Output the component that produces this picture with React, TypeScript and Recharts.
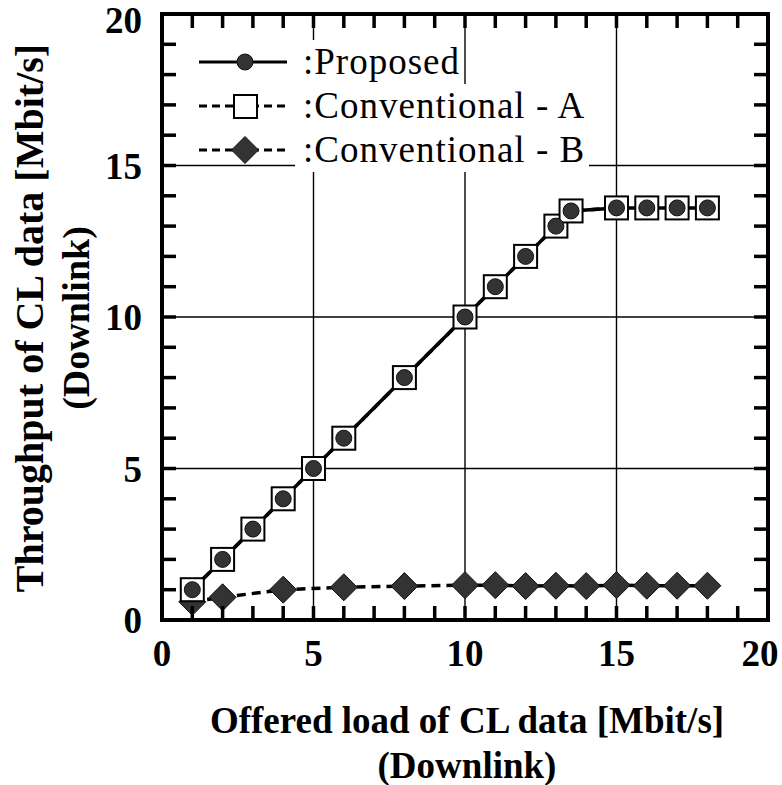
import React from 'react';
import { LineChart, Line, XAxis, YAxis, ReferenceLine, ReferenceArea, Legend } from 'recharts';

// offered load [Mbit/s] for the proposed scheme and conventional A
const offeredLoad = [1, 2, 3, 4, 5, 6, 8, 10, 11, 12, 13, 13.5, 15, 16, 17, 18];
const proposedThroughput = [1, 2, 3, 4, 5, 6, 8, 10, 11, 12, 13, 13.5, 13.6, 13.6, 13.6, 13.6];
const conventionalAThroughput = [1, 2, 3, 4, 5, 6, 8, 10, 11, 12, 13, 13.5, 13.6, 13.6, 13.6, 13.6];

// conventional B is sampled at slightly different loads
const offeredLoadB = [1, 2, 4, 6, 8, 10, 11, 12, 13, 14, 15, 16, 17, 18];
const conventionalBThroughput = [0.6, 0.75, 1.0, 1.08, 1.12, 1.15, 1.15, 1.12, 1.13, 1.12, 1.15, 1.13, 1.13, 1.13];

const allTicks = [0, 1, 2, 3, 4, 5, 6, 7, 8, 9, 10, 11, 12, 13, 14, 15, 16, 17, 18, 19, 20];
const gridValues = [5, 10, 15];
const labelledTicks = [0, 5, 10, 15, 20];

const seriesNames = [':Proposed', ':Conventional - A', ':Conventional - B'];

const toPoints = (xs: number[], ys: number[]) => xs.map((x, i) => ({ x, y: ys[i] }));
const proposedData = toPoints(offeredLoad, proposedThroughput);
const convAData = toPoints(offeredLoad, conventionalAThroughput);
const convBData = toPoints(offeredLoadB, conventionalBThroughput);

const FONT = '"Liberation Serif", "Times New Roman", Times, serif';
const AX_MIN = 0;
const AX_MAX = 20;
const TICK_PX = 14;
const DASH = '9 6';
const frameStyle = { stroke: '#000', strokeWidth: 2 };

// positions of the small tick marks along each side of the frame
const innerTicks = allTicks.filter((t) => t > AX_MIN && t < AX_MAX);
const bottomTickPts = innerTicks.map((t) => ({ x: t, y: AX_MIN }));
const topTickPts = innerTicks.map((t) => ({ x: t, y: AX_MAX }));
const leftTickPts = innerTicks.map((t) => ({ x: AX_MIN, y: t }));
const rightTickPts = innerTicks.map((t) => ({ x: AX_MAX, y: t }));

const BottomTick = (props: any) => {
  const { x, y, payload } = props;
  const v = payload.value;
  if (!labelledTicks.includes(v)) return <g />;
  return (
    <text
      x={v === 20 ? x - 8 : x}
      y={y + 46}
      textAnchor="middle"
      fontFamily={FONT}
      fontWeight="bold"
      fontSize={37}
      fill="#000"
    >
      {v}
    </text>
  );
};

const LeftTick = (props: any) => {
  const { x, y, payload } = props;
  const v = payload.value;
  if (!labelledTicks.includes(v)) return <g />;
  return (
    <text
      x={x - 20}
      y={v === 20 ? y + 19 : y + 13}
      textAnchor="end"
      fontFamily={FONT}
      fontWeight="bold"
      fontSize={37}
      fill="#000"
    >
      {v}
    </text>
  );
};

// tick marks drawn as filled bars at each tick point
const makeTickMark = (dx: number, dy: number) => (props: any) => {
  const { cx, cy, index } = props;
  if (cx == null || cy == null) return <g key={`t-${index}`} />;
  const w = 3.5;
  const x = dx === 0 ? cx - w / 2 : Math.min(cx, cx + dx);
  const y = dy === 0 ? cy - w / 2 : Math.min(cy, cy + dy);
  const width = dx === 0 ? w : Math.abs(dx);
  const height = dy === 0 ? w : Math.abs(dy);
  return <rect key={`t-${index}`} x={x} y={y} width={width} height={height} fill="#000" />;
};
const upTick = makeTickMark(0, -TICK_PX);
const downTick = makeTickMark(0, TICK_PX);
const rightwardTick = makeTickMark(TICK_PX, 0);
const leftwardTick = makeTickMark(-TICK_PX, 0);

const CircleDot = (props: any) => {
  const { cx, cy, index } = props;
  if (cx == null || cy == null) return <g key={`c-${index}`} />;
  return <circle key={`c-${index}`} cx={cx} cy={cy} r={8} fill="#333" stroke="#111" strokeWidth={1} />;
};

const SquareDot = (props: any) => {
  const { cx, cy, index } = props;
  if (cx == null || cy == null) return <g key={`s-${index}`} />;
  return (
    <rect key={`s-${index}`} x={cx - 11.5} y={cy - 11.5} width={23} height={23} fill="#fff" stroke="#000" strokeWidth={2} />
  );
};

const DiamondDot = (props: any) => {
  const { cx, cy, index } = props;
  if (cx == null || cy == null) return <g key={`d-${index}`} />;
  const h = 13.5;
  return (
    <path
      key={`d-${index}`}
      d={`M${cx},${cy - h} L${cx + h},${cy} L${cx},${cy + h} L${cx - h},${cy} Z`}
      fill="#333"
      stroke="#111"
      strokeWidth={1}
    />
  );
};

const LegendSample = ({ kind }: { kind: number }) => (
  <svg width={100} height={44} style={{ display: 'block' }}>
    <line
      x1={4}
      x2={92}
      y1={22}
      y2={22}
      stroke="#000"
      strokeWidth={3}
      strokeDasharray={kind === 0 ? undefined : '8 5'}
    />
    {kind === 0 && <circle cx={50} cy={22} r={8} fill="#333" stroke="#111" strokeWidth={1} />}
    {kind === 1 && <rect x={39} y={11} width={23} height={23} fill="#fff" stroke="#000" strokeWidth={2} />}
    {kind === 2 && (
      <path d="M50,8.5 L63.5,22 L50,35.5 L36.5,22 Z" fill="#333" stroke="#111" strokeWidth={1} />
    )}
  </svg>
);

const renderLegend = () => (
  <div style={{ fontFamily: FONT, fontSize: 37, color: '#000', letterSpacing: 1 }}>
    {seriesNames.map((name, i) => (
      <div key={name} style={{ display: 'flex', alignItems: 'center', height: 44 }}>
        <LegendSample kind={i} />
        <span
          style={{
            fontFamily: FONT,
            background: '#fff',
            lineHeight: '44px',
            height: 44,
            paddingLeft: 8,
            paddingRight: 4,
          }}
        >
          {name}
        </span>
      </div>
    ))}
  </div>
);

const tickSeries = [
  { key: 'tb', data: bottomTickPts, dot: upTick },
  { key: 'tt', data: topTickPts, dot: downTick },
  { key: 'tl', data: leftTickPts, dot: rightwardTick },
  { key: 'tr', data: rightTickPts, dot: leftwardTick },
];

const App = () => {
  return (
    <div style={{ position: 'absolute', left: 0, top: 0, width: 782, height: 785, background: '#fff' }}>
      <LineChart width={782} height={785} margin={{ top: 14, right: 14, bottom: 0, left: 0 }}>
        <XAxis
          type="number"
          dataKey="x"
          domain={[AX_MIN, AX_MAX]}
          ticks={allTicks}
          interval={0}
          height={165}
          tickSize={0}
          tickMargin={0}
          tickLine={false}
          axisLine={frameStyle}
          tick={<BottomTick />}
        />
        <YAxis
          type="number"
          domain={[AX_MIN, AX_MAX]}
          ticks={allTicks}
          interval={0}
          width={162}
          tickSize={0}
          tickMargin={0}
          tickLine={false}
          axisLine={frameStyle}
          tick={<LeftTick />}
        />
        {gridValues.map((v) => (
          <ReferenceLine key={`gx-${v}`} x={v} stroke="#000" strokeWidth={1.4} />
        ))}
        {gridValues.map((v) => (
          <ReferenceLine key={`gy-${v}`} y={v} stroke="#000" strokeWidth={1.4} />
        ))}
        <ReferenceArea
          x1={AX_MIN}
          x2={AX_MAX}
          y1={AX_MIN}
          y2={AX_MAX}
          fill="none"
          fillOpacity={0}
          stroke="#000"
          strokeWidth={4}
        />
        <Line
          data={convBData}
          dataKey="y"
          name="Conventional - B"
          type="linear"
          stroke="#000"
          strokeWidth={3.5}
          strokeDasharray={DASH}
          dot={DiamondDot}
          activeDot={false}
          isAnimationActive={false}
        />
        <Line
          data={proposedData}
          dataKey="y"
          name="Proposed"
          type="linear"
          stroke="#000"
          strokeWidth={3.5}
          dot={false}
          activeDot={false}
          isAnimationActive={false}
        />
        <Line
          data={convAData}
          dataKey="y"
          name="Conventional - A"
          type="linear"
          stroke="#000"
          strokeWidth={3.5}
          strokeDasharray={DASH}
          dot={SquareDot}
          activeDot={false}
          isAnimationActive={false}
        />
        <Line
          data={proposedData}
          dataKey="y"
          name="Proposed markers"
          type="linear"
          stroke="none"
          dot={CircleDot}
          activeDot={false}
          legendType="none"
          isAnimationActive={false}
        />
        {tickSeries.map((s) => (
          <Line
            key={s.key}
            name={s.key}
            data={s.data}
            dataKey="y"
            type="linear"
            stroke="none"
            dot={s.dot}
            activeDot={false}
            legendType="none"
            isAnimationActive={false}
          />
        ))}
        <Legend
          layout="vertical"
          align="center"
          verticalAlign="middle"
          content={renderLegend}
          wrapperStyle={{ left: 195, top: 40, width: 440, height: 132 }}
        />
      </LineChart>

      <div
        style={{
          position: 'absolute',
          left: 467,
          top: 743,
          transform: 'translate(-50%, -50%)',
          fontFamily: FONT,
          fontWeight: 'bold',
          fontSize: 37,
          whiteSpace: 'nowrap',
          textAlign: 'center',
          lineHeight: '45px',
        }}
      >
        Offered load of CL data [Mbit/s]
        <br />
        (Downlink)
      </div>
      <div
        style={{
          position: 'absolute',
          left: 52,
          top: 318,
          transform: 'translate(-50%, -50%) rotate(-90deg)',
          fontFamily: FONT,
          fontWeight: 'bold',
          whiteSpace: 'nowrap',
          textAlign: 'center',
        }}
      >
        <div style={{ fontSize: 40, lineHeight: '48px' }}>Throughput of CL data [Mbit/s]</div>
        <div style={{ fontSize: 38, lineHeight: '44px' }}>(Downlink)</div>
      </div>
    </div>
  );
};

export default App;
